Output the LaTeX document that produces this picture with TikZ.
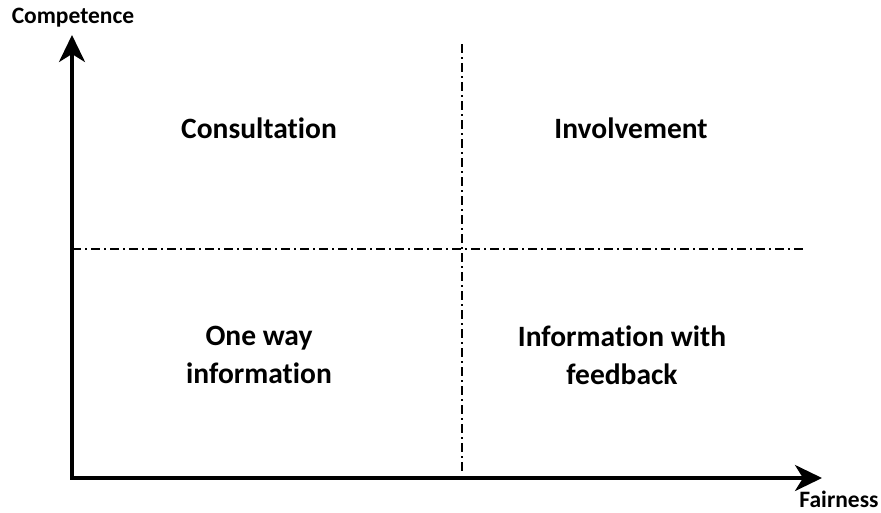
\documentclass[tikz,border=0pt]{standalone}
\usepackage{fontspec}
\setmainfont[RawFeature={-liga;-clig;-calt;-dlig}]{Carlito}
\usetikzlibrary{arrows.meta,positioning}

\begin{document}
\begin{tikzpicture}[x=1pt, y=-1pt, axis/.style={line width=3.5pt,-{Stealth[length=27pt,width=26pt,inset=8pt]}}, divider/.style={line width=1.3pt,dash pattern=on 9pt off 4pt on 2pt off 4pt}, quad label/.style={font=\bfseries\fontsize{29.5}{38}\selectfont,align=center}, axis label/.style={font=\bfseries\fontsize{23.5}{28}\selectfont}]
\useasboundingbox (0,0) rectangle (881,512);
\coordinate (origin) at (72,478);
\coordinate (ytip) at (72,35);
\coordinate (xtip) at (822,478);
\coordinate (hleft) at (72,249);
\coordinate (hright) at (806,249);
\coordinate (vtop) at (462,44);
\coordinate (vbottom) at (462,472);
\begin{scope}
\draw[divider] (hleft) -- (hright);
\draw[divider] (vtop) -- (vbottom);
\draw[axis] ([yshift=1.75pt]origin) -- (ytip);
\draw[axis] ([xshift=-1.75pt]origin) -- (xtip);
\end{scope}
\begin{scope}
\node[axis label] (competence) at (73,18) {Competence};
\node[axis label] (fairness) at (839,499) {Fairness};
\node[quad label] (consult) at (259,128) {Consultation};
\node[quad label] (involve) at (631,128) {Involvement};
\node[quad label] (oneway) at (259,355) {One way\\information};
\node[quad label] (feedback) at (622,355) {Information with\\feedback};
\end{scope}
\end{tikzpicture}
\end{document}
